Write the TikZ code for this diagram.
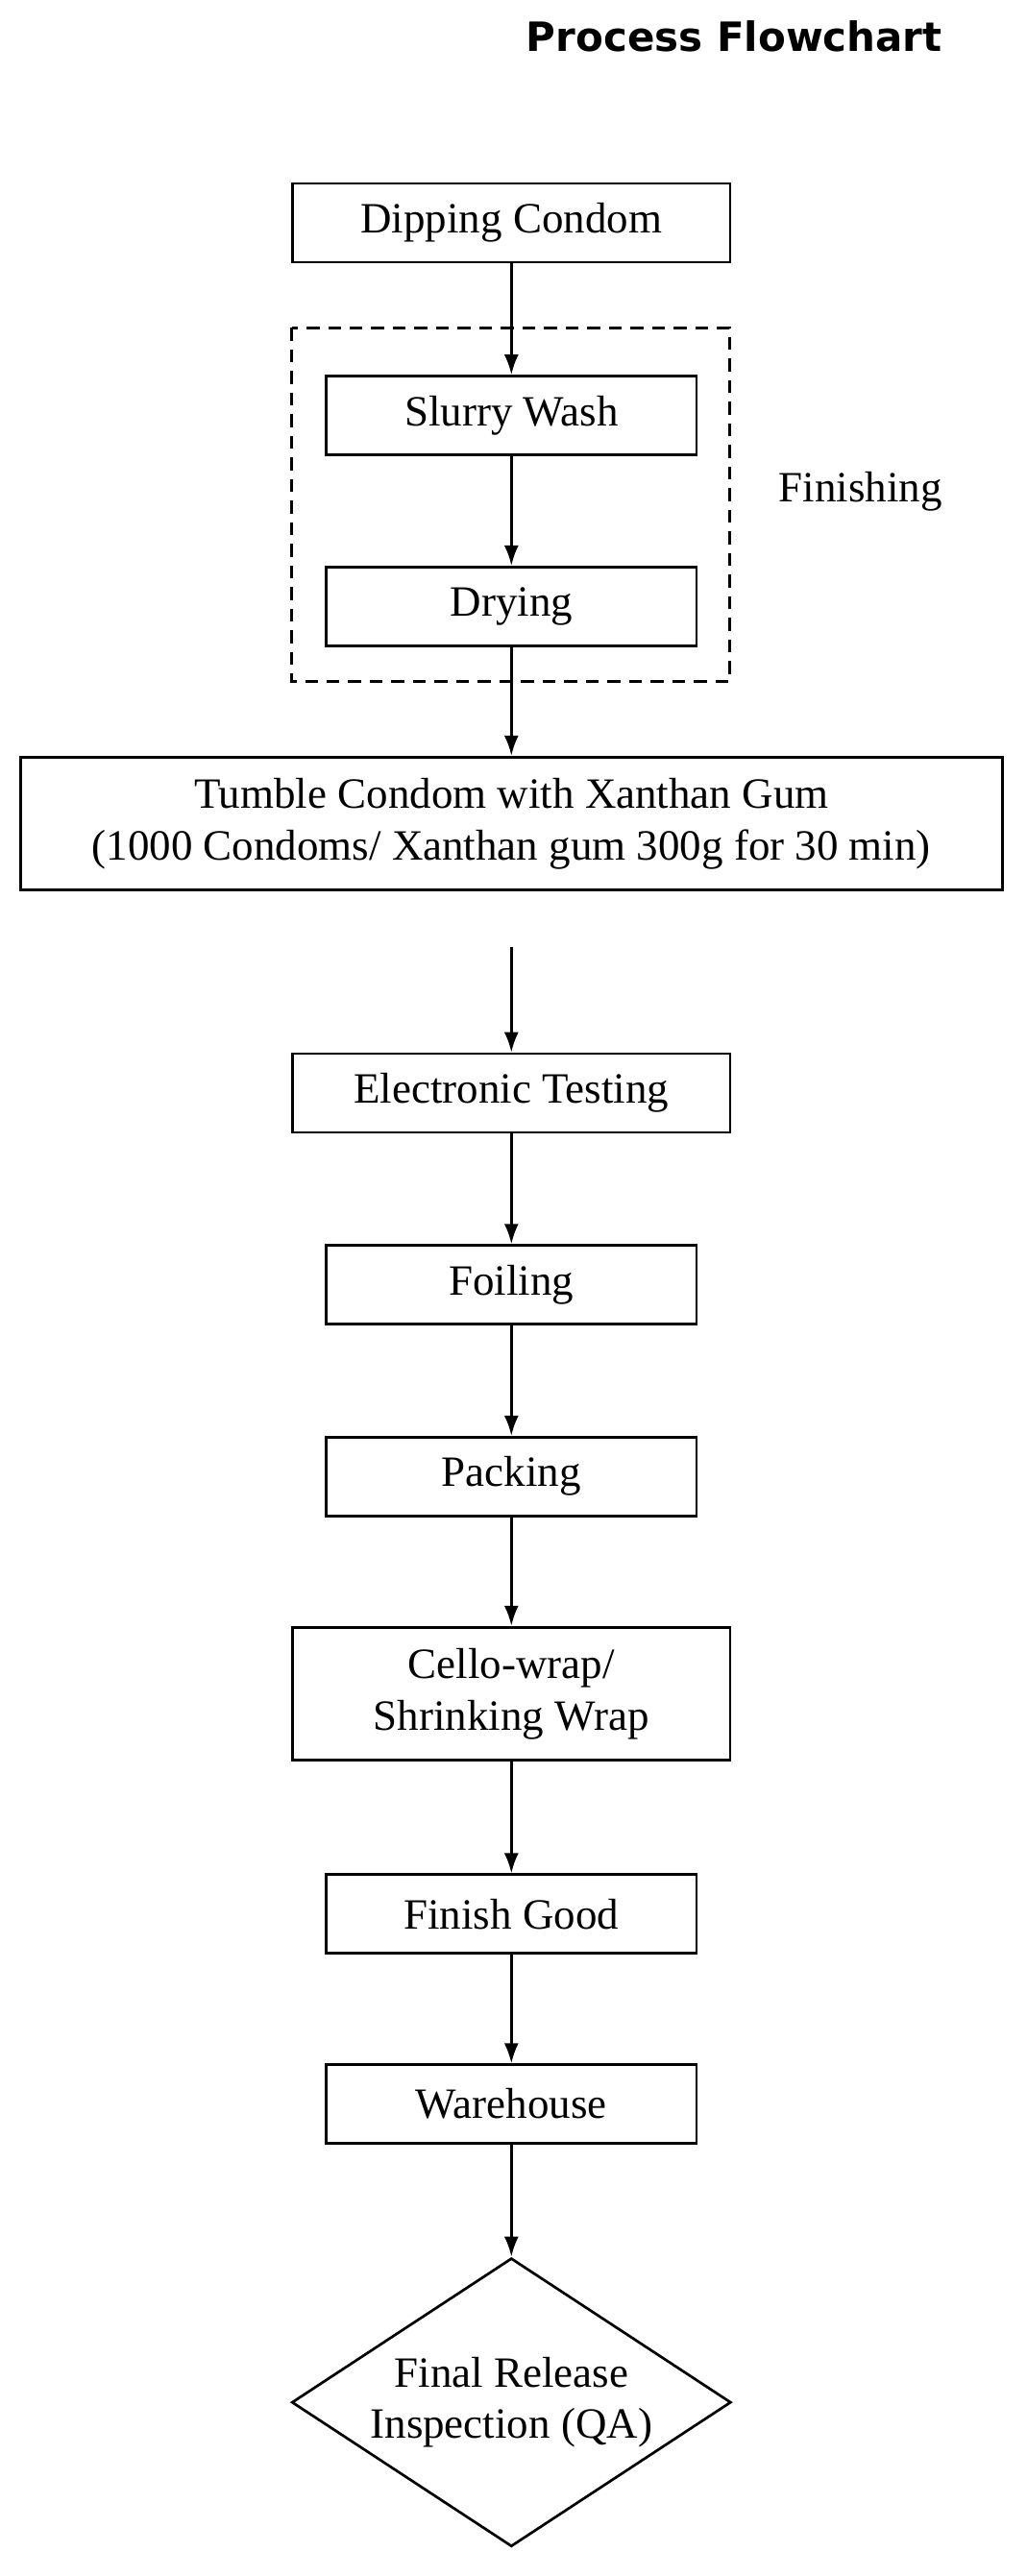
\documentclass[tikz,border=0pt]{standalone}
\usepackage{fontspec}
\setmainfont{Liberation Serif}
\newfontfamily\titlefont{DejaVu Sans}
\usetikzlibrary{shapes.geometric,arrows.meta}
\begin{document}
\begin{tikzpicture}[x=0.04cm,y=-0.04cm,
  box/.style={draw,line width=1.8pt,rectangle,inner sep=0pt,font=\fontsize{30}{36}\selectfont,align=center},
  wide/.style={box,minimum width=267*0.04cm,minimum height=48*0.04cm},
  narrow/.style={box,minimum width=226*0.04cm,minimum height=48*0.04cm},
  flow/.style={line width=1.8pt,-{Latex[length=14pt,width=10pt]}}]

\useasboundingbox (0,0) rectangle (626,1572);

\node (title) at (448,22) {\titlefont\bfseries\fontsize{28}{32}\selectfont Process Flowchart};

\node (dip) at (312,136) [wide] {Dipping Condom};
\draw [line width=1.8pt,dash pattern=on 9pt off 6pt] (178,200) rectangle (445,416);
\node (slurry) at (312,253.5) [narrow] {Slurry Wash};
\node (dry) at (312,370) [narrow] {Drying};
\node (fin) at (525,300) [font=\fontsize{30}{36}\selectfont] {Finishing};

\node (tumble) at (312,502.5) [box,minimum width=599*0.04cm,minimum height=81*0.04cm] {Tumble Condom with Xanthan Gum\\(1000 Condoms/ Xanthan gum 300g for 30 min)};
\coordinate (gap) at (312,578);

\node (etest) at (312,667) [wide] {Electronic Testing};
\node (foil) at (312,784) [narrow] {Foiling};
\node (pack) at (312,901) [narrow] {Packing};
\node (cello) at (312,1033.5) [box,minimum width=267*0.04cm,minimum height=81*0.04cm] {Cello-wrap/\\Shrinking Wrap};
\node (good) at (312,1168) [narrow] {Finish Good};
\node (ware) at (312,1284) [narrow] {Warehouse};
\node (qa) at (312,1466) [box,diamond,aspect=1.52,minimum width=268*0.04cm,minimum height=176*0.04cm] {Final Release\\Inspection (QA)};

\draw [flow] (dip) -- (slurry);
\draw [flow] (slurry) -- (dry);
\draw [flow] (dry) -- (tumble);
\draw [flow] (gap) -- (etest);
\draw [flow] (etest) -- (foil);
\draw [flow] (foil) -- (pack);
\draw [flow] (pack) -- (cello);
\draw [flow] (cello) -- (good);
\draw [flow] (good) -- (ware);
\draw [flow] (ware) -- (qa);

\end{tikzpicture}
\end{document}
